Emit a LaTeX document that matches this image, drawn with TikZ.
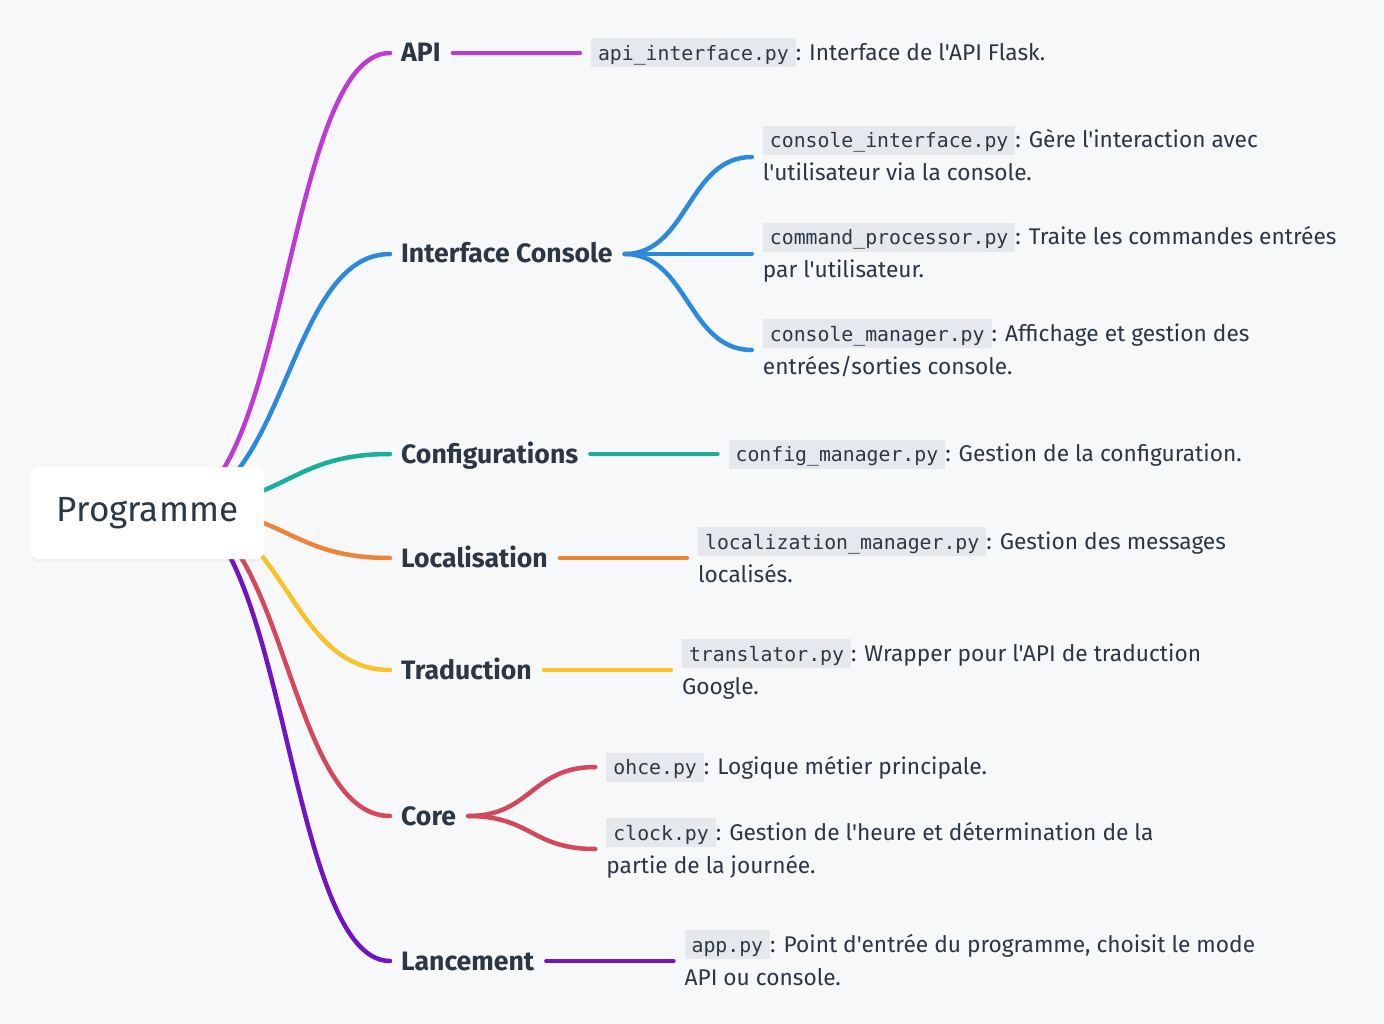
\documentclass[tikz,border=0pt]{standalone}
\usepackage{fontspec}
\setmainfont{Fira Sans}[Ligatures=TeXOff]
\newfontfamily\codefont{DejaVu Sans Mono}
\usetikzlibrary{positioning,calc,shadows}
\definecolor{pagebg}{HTML}{F7F8FA}
\definecolor{ink}{HTML}{2B3744}
\definecolor{codebg}{HTML}{E5E9ED}
\definecolor{capi}{HTML}{BE3AD4}
\definecolor{cic}{HTML}{2D89DC}
\definecolor{ccfg}{HTML}{1AAE9B}
\definecolor{cloc}{HTML}{EA853A}
\definecolor{ctrad}{HTML}{F8C228}
\definecolor{ccore}{HTML}{D4485E}
\definecolor{clanc}{HTML}{7114C2}
\newcommand\pyfile[1]{{\setlength\fboxsep{0pt}\colorbox{codebg}{\hspace{7pt}\rule[-7pt]{0pt}{29pt}{\codefont\fontsize{19.8}{20}\selectfont #1}\hspace{7pt}}}}

\begin{document}
\begin{tikzpicture}[x=1pt,y=-1pt,
  link/.style={line width=4.5pt,line cap=round,draw=#1},
  branch/.style={to path={let \p1=(\tikztostart),\p2=(\tikztotarget) in
    .. controls ({(\x1+\x2)/2},\y1) and ({(\x1+\x2)/2},\y2) .. (\tikztotarget)}},
  cat/.style={anchor=west,inner sep=0pt,text=ink,
    font=\bfseries\fontsize{26.6}{30}\selectfont,text height=18pt,text depth=0pt},
  leaf/.style={right=150pt of #1,inner sep=0pt,align=left,text=ink,
    font=\fontsize{22.7}{33}\selectfont,execute at end node={\rule[-7pt]{0pt}{7pt}}},
  root/.style={fill=white,rounded corners=8pt,minimum width=233pt,minimum height=92pt,
    text=ink,font=\fontsize{35}{40}\selectfont,
    drop shadow={opacity=.06,shadow xshift=0pt,shadow yshift=-3pt}}]
  \useasboundingbox (0,0) rectangle (1384,1024);
  \fill[pagebg] (0,0) rectangle (1384,1024);

  % categories
  \coordinate (hub) at (172,507);
  \node[cat] (api)  at (401,53)  {API};
  \node[cat] (ic)   at (401,254) {Interface Console};
  \node[cat] (cfg)  at (401,454) {Configurations};
  \node[cat] (loc)  at (401,558) {Localisation};
  \node[cat] (trad) at (401,670) {Traduction};
  \node[cat] (core) at (401,816) {Core};
  \node[cat] (lanc) at (401,961) {Lancement};

  % files
  \node[leaf=api] (apif) {\pyfile{api\_interface.py}: Interface de l'API Flask.};
  \node[leaf=ic,yshift=97pt] (cif) {\pyfile{console\_interface.py}: Gère l'interaction avec\\l'utilisateur via la console.};
  \node[leaf=ic] (cpf) {\pyfile{command\_processor.py}: Traite les commandes entrées\\par l'utilisateur.};
  \node[leaf=ic,yshift=-96pt] (cmf) {\pyfile{console\_manager.py}: Affichage et gestion des\\entrées/sorties console.};
  \node[leaf=cfg] (cfgf) {\pyfile{config\_manager.py}: Gestion de la configuration.};
  \node[leaf=loc] (locf) {\pyfile{localization\_manager.py}: Gestion des messages\\localisés.};
  \node[leaf=trad] (trf) {\pyfile{translator.py}: Wrapper pour l'API de traduction\\Google.};
  \node[leaf=core,yshift=49pt] (ohcef) {\pyfile{ohce.py}: Logique métier principale.};
  \node[leaf=core,yshift=-33pt] (clockf) {\pyfile{clock.py}: Gestion de l'heure et détermination de la\\partie de la journée.};
  \node[leaf=lanc] (appf) {\pyfile{app.py}: Point d'entrée du programme, choisit le mode\\API ou console.};

  % links
  \draw[link=capi,branch,shorten >=11pt] (hub) to (api.west);
  \draw[link=cic,branch,shorten >=11pt] (hub) to (ic.west);
  \draw[link=ccfg,branch,shorten >=11pt] (hub) to (cfg.west);
  \draw[link=cloc,branch,shorten >=11pt] (hub) to (loc.west);
  \draw[link=ctrad,branch,shorten >=11pt] (hub) to (trad.west);
  \draw[link=ccore,branch,shorten >=11pt] (hub) to (core.west);
  \draw[link=clanc,branch,shorten >=11pt] (hub) to (lanc.west);

  \draw[link=capi,shorten <=12pt,shorten >=11pt] (api.east) -- (apif.west);
  \foreach \f in {cif,cpf,cmf}
    \draw[link=cic,branch,shorten <=12pt,shorten >=11pt] (ic.east) to (\f.west);
  \draw[link=ccfg,shorten <=12pt,shorten >=11pt] (cfg.east) -- (cfgf.west);
  \draw[link=cloc,shorten <=12pt,shorten >=11pt] (loc.east) -- (locf.west);
  \draw[link=ctrad,shorten <=12pt,shorten >=11pt] (trad.east) -- (trf.west);
  \foreach \f in {ohcef,clockf}
    \draw[link=ccore,branch,shorten <=12pt,shorten >=11pt] (core.east) to (\f.west);
  \draw[link=clanc,shorten <=12pt,shorten >=11pt] (lanc.east) -- (appf.west);

  \node[root] (prog) at (147.5,513) {Programme};
\end{tikzpicture}
\end{document}
